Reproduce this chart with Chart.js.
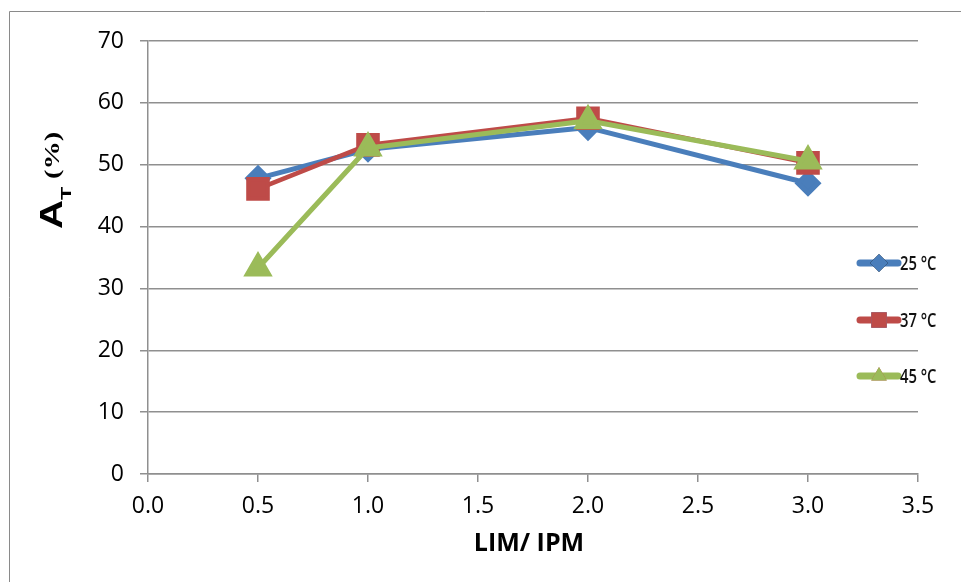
<!DOCTYPE html>
<html>
<head>
<meta charset="utf-8">
<script src="https://cdn.jsdelivr.net/npm/chart.js@4/dist/chart.umd.min.js"></script>
<style>
  html, body { margin: 0; padding: 0; background: #ffffff; }
  #wrap { width: 961px; height: 582px; position: relative; }
</style>
</head>
<body>
<div id="wrap"><canvas id="c" width="961" height="582"></canvas></div>
<script>
// LIM/IPM ratio (x) and A_T (%) per incubation temperature
const limIpm = [0.5, 1.0, 2.0, 3.0];
const at25 = [47.8, 52.5, 56.0, 47.0];
const at37 = [46.1, 53.2, 57.5, 50.3];
const at45 = [33.3, 52.7, 57.1, 50.6];
const seriesLabels = ['25 °C', '37 °C', '45 °C'];
const xTicks = [0, 0.5, 1.0, 1.5, 2.0, 2.5, 3.0, 3.5];
const yTicks = [0, 10, 20, 30, 40, 50, 60, 70];

const BLUE = '#4A7EBB', RED = '#BE4B48', GREEN = '#9BBB59';
const GRID = '#8f8f8f';

function toPoints(ys) { return limIpm.map((x, i) => ({ x: x, y: ys[i] })); }

// frame around the whole chart, axis titles and the right-hand key
const decorations = {
  id: 'decorations',
  afterDraw(chart) {
    const ctx = chart.ctx;
    ctx.save();
    // outer frame
    ctx.strokeStyle = '#8a8a8a';
    ctx.lineWidth = 1;
    ctx.beginPath();
    ctx.moveTo(9.5, 600);
    ctx.lineTo(9.5, 11.5);
    ctx.lineTo(980, 11.5);
    ctx.stroke();

    // x axis title
    ctx.fillStyle = '#000';
    ctx.font = 'bold 25px "Open Sans"';
    ctx.textAlign = 'center';
    ctx.textBaseline = 'alphabetic';
    ctx.fillText('LIM/ IPM', 529, 551);

    // y axis title: A with subscript T, then (%)
    ctx.save();
    ctx.translate(62, 229);
    ctx.rotate(-Math.PI / 2);
    ctx.textAlign = 'left';
    ctx.save();
    ctx.scale(1.3, 1);
    ctx.font = 'bold 31px "Liberation Sans"';
    ctx.fillText('A', 0, 0);
    ctx.restore();
    ctx.save();
    ctx.translate(29, 9);
    ctx.scale(1.45, 1);
    ctx.font = 'bold 15px "Liberation Sans"';
    ctx.fillText('T', 0, 0);
    ctx.restore();
    ctx.save();
    ctx.translate(50, -3);
    ctx.scale(1.35, 1);
    ctx.font = 'bold 21px "Liberation Serif"';
    ctx.fillText('(%)', 0, 0);
    ctx.restore();
    ctx.restore();

    // key
    const rows = [263, 320, 376];
    chart.data.datasets.forEach((ds, i) => {
      const y = rows[i];
      ctx.strokeStyle = ds.borderColor;
      ctx.lineWidth = 7;
      ctx.lineCap = 'round';
      ctx.beginPath();
      ctx.moveTo(860, y);
      ctx.lineTo(898, y);
      ctx.stroke();
      Chart.helpers.drawPoint(ctx, {
        pointStyle: ds.pointStyle,
        radius: ds.pointStyle === 'rect' ? 11 : 9,
        borderWidth: 0,
        rotation: 0
      }, 879, y);
      ctx.fillStyle = ds.backgroundColor;
      ctx.fill();
      ctx.save();
      ctx.translate(900, y + 7);
      ctx.scale(0.74, 1);
      ctx.fillStyle = '#111';
      ctx.font = '600 20px "Open Sans"';
      ctx.textAlign = 'left';
      ctx.fillText(ds.label, 0, 0);
      ctx.restore();
    });
    ctx.restore();
  }
};

new Chart(document.getElementById('c'), {
  type: 'line',
  data: {
    datasets: [
      { label: seriesLabels[0], data: toPoints(at25), borderColor: BLUE, backgroundColor: BLUE,
        pointStyle: 'rectRot', pointRadius: 10, borderWidth: 5, order: 3 },
      { label: seriesLabels[1], data: toPoints(at37), borderColor: RED, backgroundColor: RED,
        pointStyle: 'rect', pointRadius: 13.5, borderWidth: 4.5, order: 2 },
      { label: seriesLabels[2], data: toPoints(at45), borderColor: GREEN, backgroundColor: GREEN,
        pointStyle: 'triangle', pointRadius: 12, borderWidth: 5, order: 1 }
    ]
  },
  options: {
    responsive: false,
    animation: false,
    events: [],
    layout: { padding: { left: 0, right: 43, top: 41, bottom: 0 } },
    plugins: { legend: { display: false }, tooltip: { enabled: false }, title: { display: false } },
    elements: {
      line: { tension: 0, borderJoinStyle: 'round' },
      point: { borderWidth: 0 }
    },
    scales: {
      x: {
        type: 'linear',
        min: 0, max: 3.5,
        afterBuildTicks(scale) { scale.ticks = xTicks.map(v => ({ value: v })); },
        afterFit(scale) { scale.height = 108; },
        ticks: {
          color: '#000',
          font: { family: '"Open Sans"', size: 23 },
          padding: 11,
          maxRotation: 0,
          callback: v => v.toFixed(1)
        },
        grid: { drawOnChartArea: false, drawTicks: true, tickLength: 8, color: GRID, lineWidth: 1.5 },
        border: { display: true, color: GRID, width: 1.5 }
      },
      y: {
        type: 'linear',
        min: 0, max: 70,
        afterBuildTicks(scale) { scale.ticks = yTicks.map(v => ({ value: v })); },
        afterFit(scale) { scale.width = 148; },
        ticks: {
          color: '#000',
          font: { family: '"Open Sans"', size: 23 },
          padding: 16
        },
        grid: { drawOnChartArea: true, drawTicks: true, tickLength: 8, color: GRID, lineWidth: 1.5 },
        border: { display: true, color: GRID, width: 1.5 }
      }
    }
  },
  plugins: [decorations]
});
</script>
</body>
</html>
